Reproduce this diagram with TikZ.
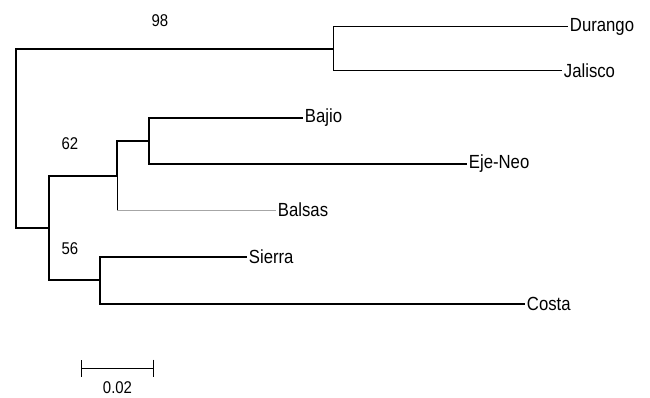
\documentclass[tikz,border=0pt]{standalone}
\usepackage{fontspec}
\setmainfont{Liberation Sans}
\usetikzlibrary{arrows.meta,calc}
\tikzset{
  branch/.style={line width=1.7pt},
  thinbranch/.style={line width=1pt},
  greybranch/.style={line width=0.6pt, draw=black!35},
  taxon/.style={anchor=west, inner sep=2pt, xscale=0.88, transform shape,
    font=\fontsize{19}{21}\selectfont},
  boot/.style={inner sep=0pt, xscale=0.88, transform shape,
    font=\fontsize{17}{19}\selectfont}
}
\begin{document}
\begin{tikzpicture}[x=1pt, y=-1pt]
      \useasboundingbox (0,0) rectangle (650,398);
      \coordinate (root) at (16,138);
      \coordinate (n98) at (333,49);
      \coordinate (nlow) at (49,228);
      \coordinate (n62) at (117,176);
      \coordinate (nbe) at (149,141);
      \coordinate (n56) at (100,280);
      \draw
        (568,27) node[taxon] (dur){Durango}
        (562,71) node[taxon] (jal){Jalisco}
        (303,118) node[taxon] (baj){Bajio}
        (467,164) node[taxon] (eje){Eje-Neo}
        (276,210) node[taxon] (bal){Balsas}
        (247,257) node[taxon] (sie){Sierra}
        (525,304) node[taxon] (cos){Costa};
      \draw
        (160,21) node[boot] (b98){98}
        (70,144) node[boot] (b62){62}
        (70,249) node[boot] (b56){56};
      \begin{scope}[branch]
        \draw (root) |- (n98);
        \draw (root) |- (nlow);
        \draw (nlow) |- (n62);
        \draw (nlow) |- (n56);
        \draw (n62) |- (nbe);
        \draw (nbe) |- (baj.west);
        \draw (nbe) |- (eje.west);
        \draw (n56) |- (sie.west);
        \draw (n56) |- (cos.west);
      \end{scope}
      \begin{scope}[thinbranch]
        \draw (n98) |- (dur.west);
        \draw (n98) |- (jal.west);
      \end{scope}
      \draw[greybranch] (n62) |- (bal.west);
      \draw[thinbranch] (n62) -- (n62 |- bal.west);
      % scale bar
      \coordinate (sbl) at (81,368);
      \coordinate (sbr) at (154,368);
      \draw[thinbranch, {Bar[width=17pt]}-{Bar[width=17pt]}] (sbl) -- (sbr);
      \node[boot] (sblab) at ($(sbl)!0.5!(sbr)+(0,20)$) {0.02};
\end{tikzpicture}
\end{document}
